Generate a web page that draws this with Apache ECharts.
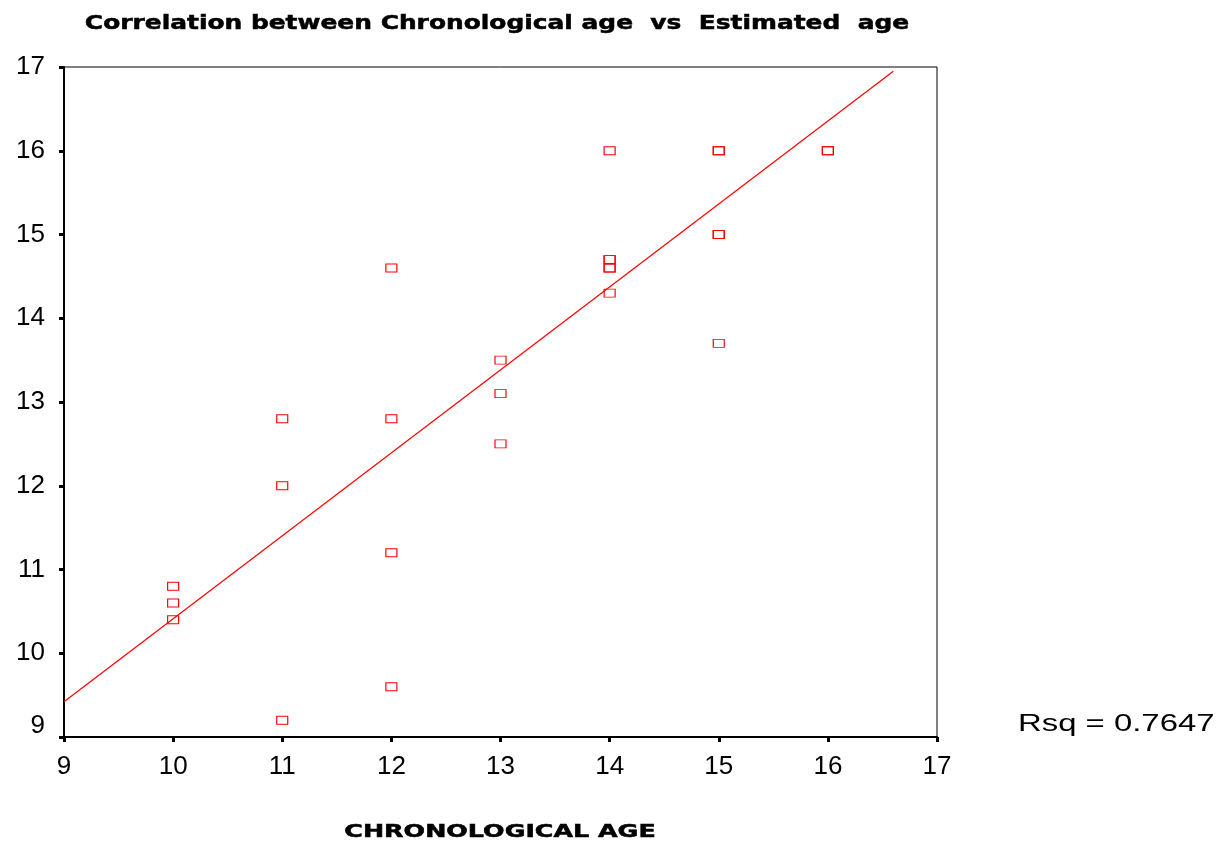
<!DOCTYPE html>
<html>
<head>
<meta charset="utf-8">
<script src="https://cdn.jsdelivr.net/npm/echarts@6/dist/echarts.min.js"></script>
<style>
html,body{margin:0;padding:0;background:#fff;}
#chart{width:1229px;height:841px;}
</style>
</head>
<body>
<div id="chart"></div>
<script>
// Chronological age (x) and estimated age (y) for each case
const chronoAge = [10, 10, 10, 11, 11, 11, 12, 12, 12, 12, 13, 13, 13, 14, 14, 14, 14, 14, 14, 15, 15, 15, 15, 15, 16, 16];
const estAge    = [10.8, 10.6, 10.4, 12.8, 12.0, 9.2, 14.6, 12.8, 11.2, 9.6, 13.5, 13.1, 12.5, 16.0, 14.7, 14.7, 14.6, 14.6, 14.3, 16.0, 16.0, 15.0, 15.0, 13.7, 16.0, 16.0];
// Fitted regression line end points
const fitX = [9, 16.6];
const fitY = [9.42, 16.95];
const axisMin = 9, axisMax = 17, axisStep = 1;
const titleText = 'Correlation between Chronological age  vs  Estimated  age';
const xAxisTitle = 'CHRONOLOGICAL AGE';
const rsqText = 'Rsq = 0.7647';

const points = chronoAge.map((x, i) => [x, estAge[i]]);
const fitLine = fitX.map((x, i) => [x, fitY[i]]);

const chart = echarts.init(document.getElementById('chart'), null, {renderer: 'canvas'});
const tickFont = {fontFamily: '"Liberation Sans", Arial, sans-serif', fontSize: 26, color: '#000'};
const axisCommon = {
  type: 'value', min: axisMin, max: axisMax, interval: axisStep,
  axisLine: {show: true, onZero: false, lineStyle: {color: '#000', width: 2}},
  axisTick: {show: true, inside: false, length: 5, lineStyle: {color: '#000', width: 3}},
  splitLine: {show: false},
};
chart.setOption({
  animation: false,
  backgroundColor: '#fff',
  grid: {left: 64, top: 67, right: 292, bottom: 104, show: true, borderColor: '#000', borderWidth: 1, backgroundColor: '#fff'},
  xAxis: Object.assign({}, axisCommon, {axisLabel: Object.assign({margin: 17}, tickFont)}),
  yAxis: Object.assign({}, axisCommon, {
    axisLabel: Object.assign({
      margin: 19,
      formatter: v => (v === axisMin ? '{low|' + v + '}' : String(v)),
      rich: {low: Object.assign({padding: [0, 0, 22, 0]}, tickFont)}
    }, tickFont)
  }),
  graphic: [
    {type: 'text', x: 497, y: 24, scaleX: 1.31, style: {text: titleText, x: 0, y: 0, align: 'center', verticalAlign: 'middle', font: 'bold 19px "DejaVu Sans", sans-serif', fill: '#000', stroke: '#000', lineWidth: 0.5}},
    {type: 'text', x: 500, y: 833, scaleX: 1.49, style: {text: xAxisTitle, x: 0, y: 0, align: 'center', verticalAlign: 'middle', font: 'bold 17px "DejaVu Sans", sans-serif', fill: '#000', stroke: '#000', lineWidth: 0.5}},
    {type: 'text', x: 1018, y: 724, scaleX: 1.37, style: {text: rsqText, x: 0, y: 0, align: 'left', verticalAlign: 'middle', font: '24px "Liberation Sans", Arial, sans-serif', fill: '#000'}}
  ],
  series: [
    {
      type: 'line', data: fitLine, showSymbol: false, symbol: 'none',
      lineStyle: {color: '#ff0000', width: 1.2}, silent: true, z: 2
    },
    {
      type: 'scatter', data: points, symbol: 'rect', symbolSize: [11, 8],
      itemStyle: {color: 'rgba(255,255,255,0)', borderColor: '#ff0000', borderWidth: 1, opacity: 1}, z: 3
    }
  ]
});
</script>
</body>
</html>
